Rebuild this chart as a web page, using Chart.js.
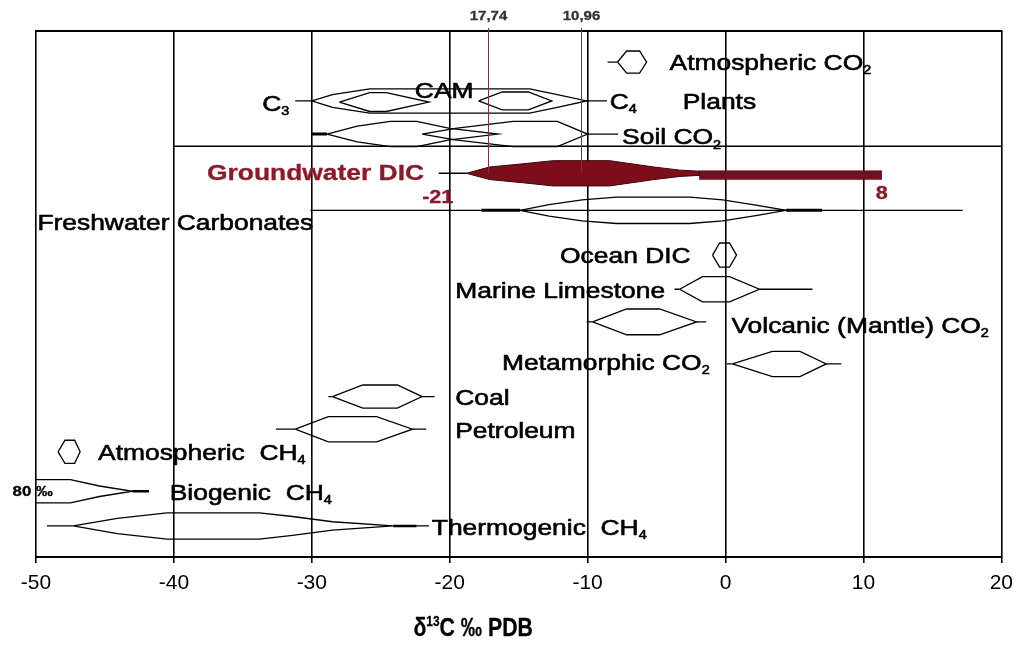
<!DOCTYPE html>
<html>
<head>
<meta charset="utf-8">
<script src="https://cdn.jsdelivr.net/npm/chart.js"></script>
<style>
  html, body { margin: 0; padding: 0; background: #ffffff; }
  #c { display: block; }
</style>
</head>
<body>
<canvas id="c" width="1021" height="650"></canvas>
<script>
// ---------------- DATA (δ13C ‰ PDB on x; row level 0 = top, 100 = bottom) ----------------
const xTicks = [-50, -40, -30, -20, -10, 0, 10, 20];
const xTitle = 'δ_^13C ‰ PDB';
const markerValues = [-17.2, -10.5];
const markerLabels = ['17,74', '10,96'];

const atmCO2Level = 5.9;
const atmCO2Profile = [[-7.83, 0], [-7.17, 2.1], [-6.23, 2.1], [-5.72, 0]];
const atmCO2Tails = [[-8.55, -7.83]];

const plantsLevel = 13.3;
const camProfile = [[-30.0, 0], [-28.5, 1.2], [-25.8, 2.3], [-14.2, 2.3], [-12.2, 1.2], [-10.07, 0]];
const c3Profile = [[-28.0, 0], [-25.8, 1.8], [-24.6, 1.8], [-21.5, 0]];
const c4Profile = [[-17.9, 0], [-16.2, 1.7], [-14.3, 1.7], [-12.6, 0]];
const plantsTails = [[-31.2, -30.0], [-10.07, -8.6]];

const soilLevel = 19.6;
const soilProfileA = [[-28.9, 0], [-26.7, 1.5], [-24.3, 2.4], [-22.4, 2.4], [-20.0, 1.1], [-16.5, 0]];
const soilProfileB = [[-22.0, 0], [-19.6, 1.1], [-15.4, 2.4], [-12.2, 2.4], [-10.0, 0]];
const soilTails = [[-10.0, -7.8]];
const soilThick = [[-30.0, -28.9]];

const plantBoxLevel = 21.9;
const plantBoxRange = [[-40, 20]];

const gwLevel = 27.05;
const gwProfile = [[-18.8, 0], [-17.1, 1.2], [-14.7, 1.8], [-12.5, 2.4], [-8.4, 2.4], [-5.2, 1.2], [-3.3, 0.6], [-1.9, 0.4]];
const gwTails = [[-20.8, -18.8]];
const gwBarRange = [-1.9, 11.3];
const gwBarLevel = 27.4;
const gwBarHalf = 0.85;

const fwLevel = 34.1;
const fwRange = [[-30.1, 17.2]];
const fwThick = [[-17.7, -14.9], [4.4, 7.0]];
const fwProfile = [[-14.9, 0], [-12.8, 1.1], [-10.4, 2.0], [-7.9, 2.5], [-2.6, 2.5], [-0.2, 2.0], [2.2, 1.0], [4.4, 0]];

const oceanLevel = 42.6;
const oceanProfile = [[-0.94, 0], [-0.43, 2.3], [0.29, 2.3], [0.8, 0]];

const limeLevel = 49.1;
const limeProfile = [[-3.33, 0], [-1.67, 2.4], [0.29, 2.4], [2.46, 0]];
const limeTails = [[-3.7, -3.33], [2.46, 6.3]];

const volcLevel = 55.3;
const volcProfile = [[-9.64, 0], [-7.17, 2.45], [-4.78, 2.45], [-2.1, 0]];
const volcTails = [[-10.07, -9.64], [-2.1, -1.4]];

const metaLevel = 63.3;
const metaProfile = [[0.5, 0], [3.4, 2.4], [5.4, 2.4], [7.3, 0]];
const metaTails = [[0.1, 0.5], [7.3, 8.4]];

const coalLevel = 69.5;
const coalProfile = [[-28.5, 0], [-26.3, 2.2], [-23.8, 2.2], [-22.0, 0]];
const coalTails = [[-28.8, -28.5], [-22.0, -21.1]];

const petLevel = 75.7;
const petProfile = [[-31.2, 0], [-28.8, 2.4], [-25.3, 2.4], [-22.7, 0]];
const petTails = [[-32.6, -31.2], [-22.7, -21.7]];

const atmCH4Level = 80.0;
const atmCH4Profile = [[-48.4, 0], [-47.9, 2.2], [-47.2, 2.2], [-46.8, 0]];

const bioLevel = 87.5;
const bioProfile = [[-80, 0], [-60, 2.3], [-47.5, 2.2], [-45.4, 1.0], [-43.0, 0]];
const bioThick = [[-43.0, -41.8]];

const thermoLevel = 94.1;
const thermoProfile = [[-47.3, 0], [-44.1, 1.46], [-40.5, 2.5], [-33.8, 2.5], [-31.4, 1.8], [-28.5, 0.8], [-24.1, 0]];
const thermoTails = [[-49.2, -47.3], [-22.4, -21.5]];
const thermoThick = [[-24.1, -22.4]];

// ---------------- LAYOUT OF TEXT (positions in data units) ----------------
const FAM = "'Liberation Sans', Arial, Helvetica, sans-serif";
const SX = 1.2;
const RED = '#8c1a2b';
const textLabels = [
  { t: 'Atmospheric CO_2', x: -4.06, lv: 5.9 },
  { t: 'C_3', x: -33.6, lv: 13.7 },
  { t: 'CAM', x: -20.4, lv: 11.2, align: 'center' },
  { t: 'C_4', x: -8.4, lv: 13.3 },
  { t: 'Plants', x: -3.1, lv: 13.3 },
  { t: 'Soil CO_2', x: -7.5, lv: 20.0 },
  { t: 'Groundwater DIC', x: -37.6, lv: 26.8, bold: true, color: RED },
  { t: '-21', x: -22.0, lv: 31.4, bold: true, color: RED, size: 18 },
  { t: '8', x: 10.9, lv: 30.8, bold: true, color: RED, size: 18 },
  { t: 'Freshwater Carbonates', x: -49.9, lv: 36.3 },
  { t: 'Ocean DIC', x: -12.0, lv: 42.6 },
  { t: 'Marine Limestone', x: -19.6, lv: 49.2 },
  { t: 'Volcanic (Mantle) CO_2', x: 0.43, lv: 55.9 },
  { t: 'Metamorphic CO_2', x: -16.2, lv: 62.9 },
  { t: 'Coal', x: -19.6, lv: 69.6 },
  { t: 'Petroleum', x: -19.6, lv: 75.9 },
  { t: 'Atmospheric  CH_4', x: -45.5, lv: 80.0 },
  { t: 'Biogenic  CH_4', x: -40.3, lv: 87.6 },
  { t: 'Thermogenic  CH_4', x: -21.3, lv: 94.3 },
  { t: '80 ‰', x: -51.7, lv: 87.5, bold: true, size: 14 }
];
const markerTopLevel = -0.6;
const markerLabelLevel = -3.0;
const titleX = -18.3;     // centre of axis title, in x data units
const titleOffset = 70;   // px below the chart area

// ---------------- BUILDERS ----------------
function shapePoints(profile, level) {
  const up = profile.map(([x, h]) => ({ x, y: level - h }));
  const lo = profile.slice().reverse().map(([x, h]) => ({ x, y: level + h }));
  return up.concat(lo, [up[0]]);
}
function lineDS(data, width, color, extra) {
  return Object.assign({
    data, showLine: true, borderColor: color || '#000', borderWidth: width || 1.3,
    pointRadius: 0, pointHoverRadius: 0, fill: false, tension: 0
  }, extra || {});
}
const datasets = [];
function addShape(profile, level) { datasets.push(lineDS(shapePoints(profile, level), 1.3)); }
function addSegs(segs, level, width) {
  segs.forEach(([a, b]) => datasets.push(lineDS([{ x: a, y: level }, { x: b, y: level }], width || 1.3)));
}

const gwBarPoly = [
  { x: gwBarRange[0], y: gwBarLevel - gwBarHalf }, { x: gwBarRange[1], y: gwBarLevel - gwBarHalf },
  { x: gwBarRange[1], y: gwBarLevel + gwBarHalf }, { x: gwBarRange[0], y: gwBarLevel + gwBarHalf },
  { x: gwBarRange[0], y: gwBarLevel - gwBarHalf }
];

addSegs(plantBoxRange, plantBoxLevel, 1.6);
addSegs(fwRange, fwLevel, 1.3);
addSegs(fwThick, fwLevel, 3);
addShape(fwProfile, fwLevel);

addShape(atmCO2Profile, atmCO2Level); addSegs(atmCO2Tails, atmCO2Level);
addShape(camProfile, plantsLevel); addShape(c3Profile, plantsLevel + 0.2); addShape(c4Profile, plantsLevel);
addSegs(plantsTails, plantsLevel);
addShape(soilProfileA, soilLevel); addShape(soilProfileB, soilLevel);
addSegs(soilTails, soilLevel); addSegs(soilThick, soilLevel, 3);

addSegs(gwTails, gwLevel, 1.5);
datasets.push(lineDS(shapePoints(gwProfile, gwLevel), 1, '#3d0509', { fill: 'shape', backgroundColor: '#7e0d1c' }));
datasets.push(lineDS(gwBarPoly, 0.5, '#5a0d1a', { fill: 'shape', backgroundColor: '#6e1325' }));

addShape(oceanProfile, oceanLevel);
addShape(limeProfile, limeLevel); addSegs(limeTails, limeLevel);
addShape(volcProfile, volcLevel); addSegs(volcTails, volcLevel);
addShape(metaProfile, metaLevel); addSegs(metaTails, metaLevel);
addShape(coalProfile, coalLevel); addSegs(coalTails, coalLevel);
addShape(petProfile, petLevel); addSegs(petTails, petLevel);
addShape(atmCH4Profile, atmCH4Level);
addShape(bioProfile, bioLevel); addSegs(bioThick, bioLevel, 2.5);
addShape(thermoProfile, thermoLevel); addSegs(thermoTails, thermoLevel); addSegs(thermoThick, thermoLevel, 2.5);

// ---------------- TEXT HELPER ----------------
// "_2" -> subscript 2 ; "_^13" -> superscript 13
function drawText(ctx, text, px, py, o) {
  const size = o.size || 22, w = o.bold ? 'bold ' : '';
  const raw = text.split(/_(\^?\d+)/);
  const parts = raw.map((p, i) => (i % 2 === 1)
    ? (p[0] === '^' ? { t: p.slice(1), k: 'sup' } : { t: p, k: 'sub' })
    : { t: p, k: 'n' });
  ctx.save();
  ctx.translate(px, py);
  ctx.scale(o.sx || SX, 1);
  ctx.fillStyle = o.color || '#000';
  ctx.strokeStyle = o.color || '#000';
  ctx.lineWidth = o.bold ? 0.3 : 0.6;
  ctx.lineJoin = 'round';
  ctx.textBaseline = 'alphabetic';
  ctx.textAlign = 'left';
  const fnt = p => w + (p.k === 'n' ? size : Math.round(size * 0.55)) + 'px ' + FAM;
  let total = 0;
  parts.forEach(p => { ctx.font = fnt(p); total += ctx.measureText(p.t).width; });
  let cx = o.align === 'center' ? -total / 2 : (o.align === 'right' ? -total : 0);
  const base = size * 0.36;
  parts.forEach(p => {
    ctx.font = fnt(p);
    const yy = p.k === 'sub' ? base + size * 0.2 : (p.k === 'sup' ? base - size * 0.42 : base);
    ctx.fillText(p.t, cx, yy);
    ctx.strokeText(p.t, cx, yy);
    cx += ctx.measureText(p.t).width;
  });
  ctx.restore();
}

const overlay = {
  id: 'overlay',
  afterDatasetsDraw(chart) {
    const { ctx, chartArea: a, scales: { x, y } } = chart;
    ctx.save();
    ctx.strokeStyle = '#000';
    ctx.lineWidth = 2;
    ctx.beginPath(); ctx.moveTo(a.left - 1, a.top); ctx.lineTo(a.right + 1, a.top); ctx.stroke();
    markerValues.forEach((v, i) => {
      const px = Math.round(x.getPixelForValue(v)) + 0.5;
      ctx.strokeStyle = '#7a3434';
      ctx.lineWidth = 1;
      ctx.beginPath();
      ctx.moveTo(px, y.getPixelForValue(markerTopLevel));
      ctx.lineTo(px, y.getPixelForValue(gwLevel));
      ctx.stroke();
      drawText(ctx, markerLabels[i], px, y.getPixelForValue(markerLabelLevel), { size: 13, bold: true, color: '#333', align: 'center', sx: 1.15 });
    });
    textLabels.forEach(l => {
      drawText(ctx, l.t, x.getPixelForValue(l.x), y.getPixelForValue(l.lv), l);
    });
    drawText(ctx, xTitle, x.getPixelForValue(titleX), a.bottom + titleOffset, { size: 25, bold: true, align: 'center', sx: 0.85 });
    ctx.restore();
  }
};

Chart.defaults.font.family = FAM;
new Chart(document.getElementById('c'), {
  type: 'scatter',
  data: { datasets },
  options: {
    responsive: false,
    animation: false,
    layout: { padding: { left: 36, right: 19, top: 31, bottom: 0 } },
    plugins: { legend: { display: false }, tooltip: { enabled: false } },
    events: [],
    scales: {
      x: {
        type: 'linear', min: xTicks[0], max: xTicks[xTicks.length - 1],
        afterBuildTicks: s => { s.ticks = xTicks.map(v => ({ value: v })); },
        ticks: { color: '#000', font: { size: 21 }, padding: 8, maxRotation: 0 },
        grid: { color: '#000', lineWidth: 1.6, tickLength: 6, tickColor: '#000', drawOnChartArea: true },
        border: { color: '#000', width: 2 },
        title: { display: false },
        afterFit: s => { s.height = 93; }
      },
      y: { type: 'linear', min: 0, max: 100, reverse: true, display: false }
    }
  },
  plugins: [overlay]
});
</script>
</body>
</html>
